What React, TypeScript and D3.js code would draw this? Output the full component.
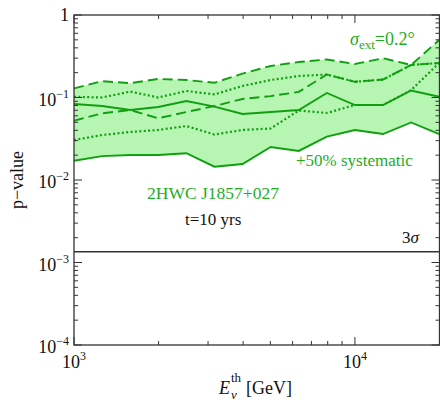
import React from "react";
import * as d3 from "d3";

// Neutrino threshold energies (GeV)
const energies = [1000, 1259, 1585, 1995, 2512, 3162, 3981, 5012, 6310, 7943, 10000, 12589, 15849, 19953];

// p-value curves
const dashedUpper = [0.129, 0.158, 0.149, 0.168, 0.163, 0.151, 0.195, 0.241, 0.269, 0.289, 0.255, 0.299, 0.248, 0.498];
const dottedUpper = [0.102, 0.100, 0.118, 0.100, 0.120, 0.109, 0.138, 0.163, 0.182, 0.190, 0.155, 0.165, 0.248, 0.262];
const solidUpper = [0.0834, 0.0789, 0.0705, 0.0767, 0.0907, 0.0774, 0.0631, 0.0667, 0.0705, 0.1134, 0.0811, 0.0811, 0.1216, 0.102];
const dashedLower = [0.0523, 0.0643, 0.0705, 0.056, 0.0667, 0.0789, 0.0959, 0.104, 0.117, 0.19, 0.155, 0.165, 0.248, 0.262];
const dottedLower = [0.0305, 0.0351, 0.0382, 0.0404, 0.0451, 0.0356, 0.0404, 0.0421, 0.0696, 0.0649, 0.0811, 0.0811, 0.123, 0.262];
const solidLower = [0.01714, 0.0195, 0.0201, 0.0201, 0.0211, 0.0145, 0.0156, 0.0251, 0.0225, 0.0335, 0.0404, 0.0361, 0.0498, 0.0361];

const threeSigma = 0.00135;

const xMajorTicks = [1000, 10000];
const xMajorLabels = ["3", "4"];
const xMinorTicks = [2000, 3000, 4000, 5000, 6000, 7000, 8000, 9000, 20000];
const yMajorTicks = [1, 0.1, 0.01, 0.001, 0.0001];
const yMajorExps = ["", "−1", "−2", "−3", "−4"];
const yMinorMult = [2, 3, 4, 5, 6, 7, 8, 9];

const W = 440;
const H = 402;
const L = 74;
const R = 439.5;
const T = 15;
const B = 345;

const GREEN = "#0f9f0f";
const TEXT_GREEN = "#1fac1f";
const FILL = "#b6f6b2";
const AX = "#333";
const FONT = "Liberation Serif, Times New Roman, DejaVu Serif, serif";
const fs = { fontFamily: FONT };

export default function App() {
  const x = d3.scaleLog().domain([1000, 20000]).range([L, R]);
  const y = d3.scaleLog().domain([1e-4, 1]).range([B, T]);

  const line = (vals: number[]) =>
    d3
      .line<number>()
      .x((_, i) => x(energies[i]))
      .y((v) => y(v))(vals) as string;

  const area = d3
    .area<number>()
    .x((_, i) => x(energies[i]))
    .y0((_, i) => y(solidLower[i]))
    .y1((_, i) => y(dashedUpper[i]))(energies) as string;

  const yMinor: number[] = [];
  [1e-4, 1e-3, 1e-2, 1e-1].forEach((d) => yMinorMult.forEach((m) => yMinor.push(d * m)));

  const lw = 1.9;

  return (
    <svg
      width={W}
      height={H}
      style={{ position: "absolute", left: 0, top: 0, background: "#fff", fontFamily: FONT }}
    >
      <defs>
        <clipPath id="plotclip">
          <rect x={L} y={T} width={R - L} height={B - T} />
        </clipPath>
      </defs>
      <g clipPath="url(#plotclip)">
        <path d={area} fill={FILL} stroke="none" />
        <path d={line(dashedUpper)} fill="none" stroke={GREEN} strokeWidth={lw} strokeDasharray="10,5" />
        <path d={line(dottedUpper)} fill="none" stroke={GREEN} strokeWidth={lw + 0.3} strokeDasharray="2,2.4" />
        <path d={line(solidUpper)} fill="none" stroke={GREEN} strokeWidth={lw} />
        <path d={line(dashedLower)} fill="none" stroke={GREEN} strokeWidth={lw} strokeDasharray="10,5" />
        <path d={line(dottedLower)} fill="none" stroke={GREEN} strokeWidth={lw + 0.3} strokeDasharray="2,2.4" />
        <path d={line(solidLower)} fill="none" stroke={GREEN} strokeWidth={lw} />
        <line x1={L} x2={R} y1={y(threeSigma)} y2={y(threeSigma)} stroke={AX} strokeWidth={1.3} />
      </g>

      {/* ticks */}
      <g stroke={AX} strokeWidth={1}>
        {xMajorTicks.map((t) => (
          <g key={"xM" + t}>
            <line x1={x(t)} x2={x(t)} y1={B} y2={B - 8} />
            <line x1={x(t)} x2={x(t)} y1={T} y2={T + 8} />
          </g>
        ))}
        {xMinorTicks.map((t) => (
          <g key={"xm" + t}>
            <line x1={x(t)} x2={x(t)} y1={B} y2={B - 4} />
            <line x1={x(t)} x2={x(t)} y1={T} y2={T + 4} />
          </g>
        ))}
        {yMajorTicks.map((t) => (
          <g key={"yM" + t}>
            <line x1={L} x2={L + 8} y1={y(t)} y2={y(t)} />
            <line x1={R} x2={R - 8} y1={y(t)} y2={y(t)} />
          </g>
        ))}
        {yMinor.map((t) => (
          <g key={"ym" + t}>
            <line x1={L} x2={L + 4} y1={y(t)} y2={y(t)} />
            <line x1={R} x2={R - 4} y1={y(t)} y2={y(t)} />
          </g>
        ))}
      </g>
      <rect x={L} y={T} width={R - L} height={B - T} fill="none" stroke={AX} strokeWidth={1.3} />

      {/* y tick labels */}
      {yMajorTicks.map((t, i) => (
        <text key={"yl" + t} x={69} y={y(t) + (i === 0 ? 6 : 8)} textAnchor="end" fontSize={18} fill="#111" style={fs}>
          {yMajorExps[i] === "" ? (
            "1"
          ) : (
            <>
              10
              <tspan fontSize={12} dy={-8}>
                {yMajorExps[i]}
              </tspan>
            </>
          )}
        </text>
      ))}

      {/* x tick labels */}
      {xMajorTicks.map((t, i) => (
        <text key={"xl" + t} x={x(t)} y={368} textAnchor="middle" fontSize={18} fill="#111" style={fs}>
          10
          <tspan fontSize={12} dy={-8}>
            {xMajorLabels[i]}
          </tspan>
        </text>
      ))}

      {/* axis titles */}
      <text transform="translate(23,180) rotate(-90)" textAnchor="middle" fontSize={18} fill="#111" style={fs}>
        p−value
      </text>
      <text x={219} y={394} fontSize={18} fontStyle="italic" fill="#111" style={fs}>E</text>
      <text x={231} y={382} fontSize={13} fill="#111" style={fs}>th</text>
      <text x={231} y={399} fontSize={13} fontStyle="italic" fill="#111" style={fs}>ν</text>
      <text x={246} y={394} fontSize={18} fill="#111" style={fs}>[GeV]</text>

      {/* annotations */}
      <text x={350} y={45} fontSize={18} fill={TEXT_GREEN} style={fs}>
        <tspan fontStyle="italic">σ</tspan>
        <tspan fontSize={13} dy={4}>ext</tspan>
        <tspan dy={-4}>=0.2°</tspan>
      </text>
      <text x={296} y={166} fontSize={17} fill={TEXT_GREEN} style={fs}>
        +50% systematic
      </text>
      <text x={147} y={199} fontSize={17.5} fill={TEXT_GREEN} style={fs}>
        2HWC J1857+027
      </text>
      <text x={185} y={225} fontSize={17} fill="#111" style={fs}>
        t=10 yrs
      </text>
      <text x={402} y={243} fontSize={17} fill="#111" style={fs}>
        3<tspan fontStyle="italic">σ</tspan>
      </text>
    </svg>
  );
}
